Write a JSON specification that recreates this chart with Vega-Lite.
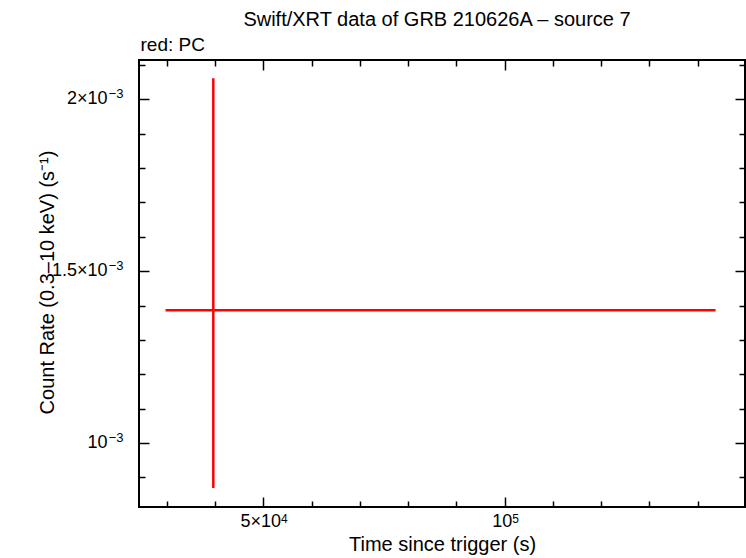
{
  "$schema": "https://vega.github.io/schema/vega-lite/v6.json",
  "width": 606,
  "height": 447,
  "autosize": {"type": "none"},
  "padding": {"left": 139, "top": 60, "right": 1, "bottom": 51},
  "background": "white",
  "title": {
    "text": "Swift/XRT data of GRB 210626A – source 7",
    "anchor": "middle",
    "frame": "group",
    "font": "Liberation Sans",
    "fontSize": 20,
    "fontWeight": "normal",
    "color": "black",
    "dx": -5,
    "offset": 5
  },
  "config": {
    "view": {"stroke": "black", "strokeWidth": 2},
    "axis": {
      "domain": false,
      "grid": false,
      "tickColor": "black",
      "tickWidth": 1.5,
      "labelFont": "Liberation Sans",
      "labelFontSize": 18,
      "labelColor": "black",
      "titleFont": "Liberation Sans",
      "titleFontSize": 20,
      "titleFontWeight": "normal",
      "titleColor": "black",
      "labelOverlap": false,
      "labelBound": false,
      "labelFlush": false
    }
  },
  "data": {
    "values": [
      {"t": 39600, "t_lo": 29700, "t_hi": 143700, "rate": 0.0013864, "rate_lo": 0.000869, "rate_hi": 0.002061}
    ]
  },
  "resolve": {"axis": {"x": "independent", "y": "independent"}},
  "layer": [
    {
      "mark": {"type": "rule", "color": "#ff0000", "strokeWidth": 2.5},
      "encoding": {
        "x": {
          "field": "t_lo",
          "type": "quantitative",
          "scale": {"domain": [24200, 149800], "nice": false, "zero": false},
          "axis": {
            "orient": "bottom",
            "title": "Time since trigger (s)",
            "titleX": 303,
            "titleY": 43,
            "titleAlign": "center",
            "titleBaseline": "alphabetic",
            "values": [30000, 40000, 50000, 60000, 70000, 80000, 90000, 100000, 110000, 120000, 130000, 140000],
            "labels": false,
            "tickSize": {"condition": {"test": "datum.value == 50000 || datum.value == 100000", "value": -10}, "value": -6}
          }
        },
        "x2": {"field": "t_hi"},
        "y": {
          "field": "rate",
          "type": "quantitative",
          "scale": {"domain": [0.000814, 0.002114], "nice": false, "zero": false},
          "axis": {
            "orient": "left",
            "title": "Count Rate (0.3–10 keV) (s⁻¹)",
            "titleX": -92,
            "titleY": 222,
            "titleAngle": -90,
            "titleAlign": "center",
            "titleBaseline": "middle",
            "values": [0.0009, 0.001, 0.0011, 0.0012, 0.0013, 0.0014, 0.0015, 0.0016, 0.0017, 0.0018, 0.0019, 0.002, 0.0021],
            "labels": false,
            "tickSize": {"condition": {"test": "abs(datum.value-0.002)<1e-9 || abs(datum.value-0.0015)<1e-9 || abs(datum.value-0.001)<1e-9", "value": -10}, "value": -6}
          }
        }
      }
    },
    {
      "mark": {"type": "rule", "color": "#ff0000", "strokeWidth": 2.5},
      "encoding": {
        "x": {
          "field": "t",
          "type": "quantitative",
          "axis": {
            "orient": "top",
            "title": "red: PC",
            "titleFontSize": 19,
            "titleX": 1,
            "titleY": -10,
            "titleAlign": "left",
            "titleBaseline": "alphabetic",
            "values": [30000, 40000, 50000, 60000, 70000, 80000, 90000, 100000, 110000, 120000, 130000, 140000],
            "labels": false,
            "tickSize": {"condition": {"test": "datum.value == 50000 || datum.value == 100000", "value": -10}, "value": -6}
          }
        },
        "y": {
          "field": "rate_lo",
          "type": "quantitative",
          "axis": {
            "orient": "right",
            "title": null,
            "values": [0.0009, 0.001, 0.0011, 0.0012, 0.0013, 0.0014, 0.0015, 0.0016, 0.0017, 0.0018, 0.0019, 0.002, 0.0021],
            "labels": false,
            "tickSize": {"condition": {"test": "abs(datum.value-0.002)<1e-9 || abs(datum.value-0.0015)<1e-9 || abs(datum.value-0.001)<1e-9", "value": -10}, "value": -6}
          }
        },
        "y2": {"field": "rate_hi"}
      }
    },
    {
      "mark": {"type": "point", "opacity": 0, "size": 1},
      "encoding": {
        "x": {
          "field": "t",
          "type": "quantitative",
          "axis": {
            "orient": "bottom",
            "title": null,
            "ticks": false,
            "values": [50000, 100000],
            "labelExpr": "datum.value == 50000 ? '5×10' : '10'",
            "labelAlign": "right",
            "labelBaseline": "middle",
            "labelOffset": {"condition": {"test": "datum.value == 50000", "value": 17}, "value": 7},
            "labelPadding": 14.5
          }
        },
        "y": {
          "field": "rate",
          "type": "quantitative",
          "axis": {
            "orient": "left",
            "title": null,
            "ticks": false,
            "values": [0.001, 0.0015, 0.002],
            "labelExpr": "abs(datum.value-0.002)<1e-9 ? '2×10' : abs(datum.value-0.0015)<1e-9 ? '1.5×10' : '10'",
            "labelAlign": "right",
            "labelBaseline": "middle",
            "labelOffset": -1,
            "labelPadding": 32
          }
        }
      }
    },
    {
      "mark": {"type": "point", "opacity": 0, "size": 1},
      "encoding": {
        "x": {
          "field": "t",
          "type": "quantitative",
          "axis": {
            "orient": "bottom",
            "title": null,
            "ticks": false,
            "values": [50000, 100000],
            "labelExpr": "datum.value == 50000 ? '4' : '5'",
            "labelFontSize": 12,
            "labelAlign": "left",
            "labelBaseline": "middle",
            "labelOffset": {"condition": {"test": "datum.value == 50000", "value": 17}, "value": 7},
            "labelPadding": 11
          }
        },
        "y": {
          "field": "rate",
          "type": "quantitative",
          "axis": {
            "orient": "left",
            "title": null,
            "ticks": false,
            "values": [0.001, 0.0015, 0.002],
            "labelExpr": "'−3'",
            "labelFontSize": 13,
            "labelAlign": "right",
            "labelBaseline": "middle",
            "labelOffset": -6,
            "labelPadding": 16
          }
        }
      }
    }
  ]
}
